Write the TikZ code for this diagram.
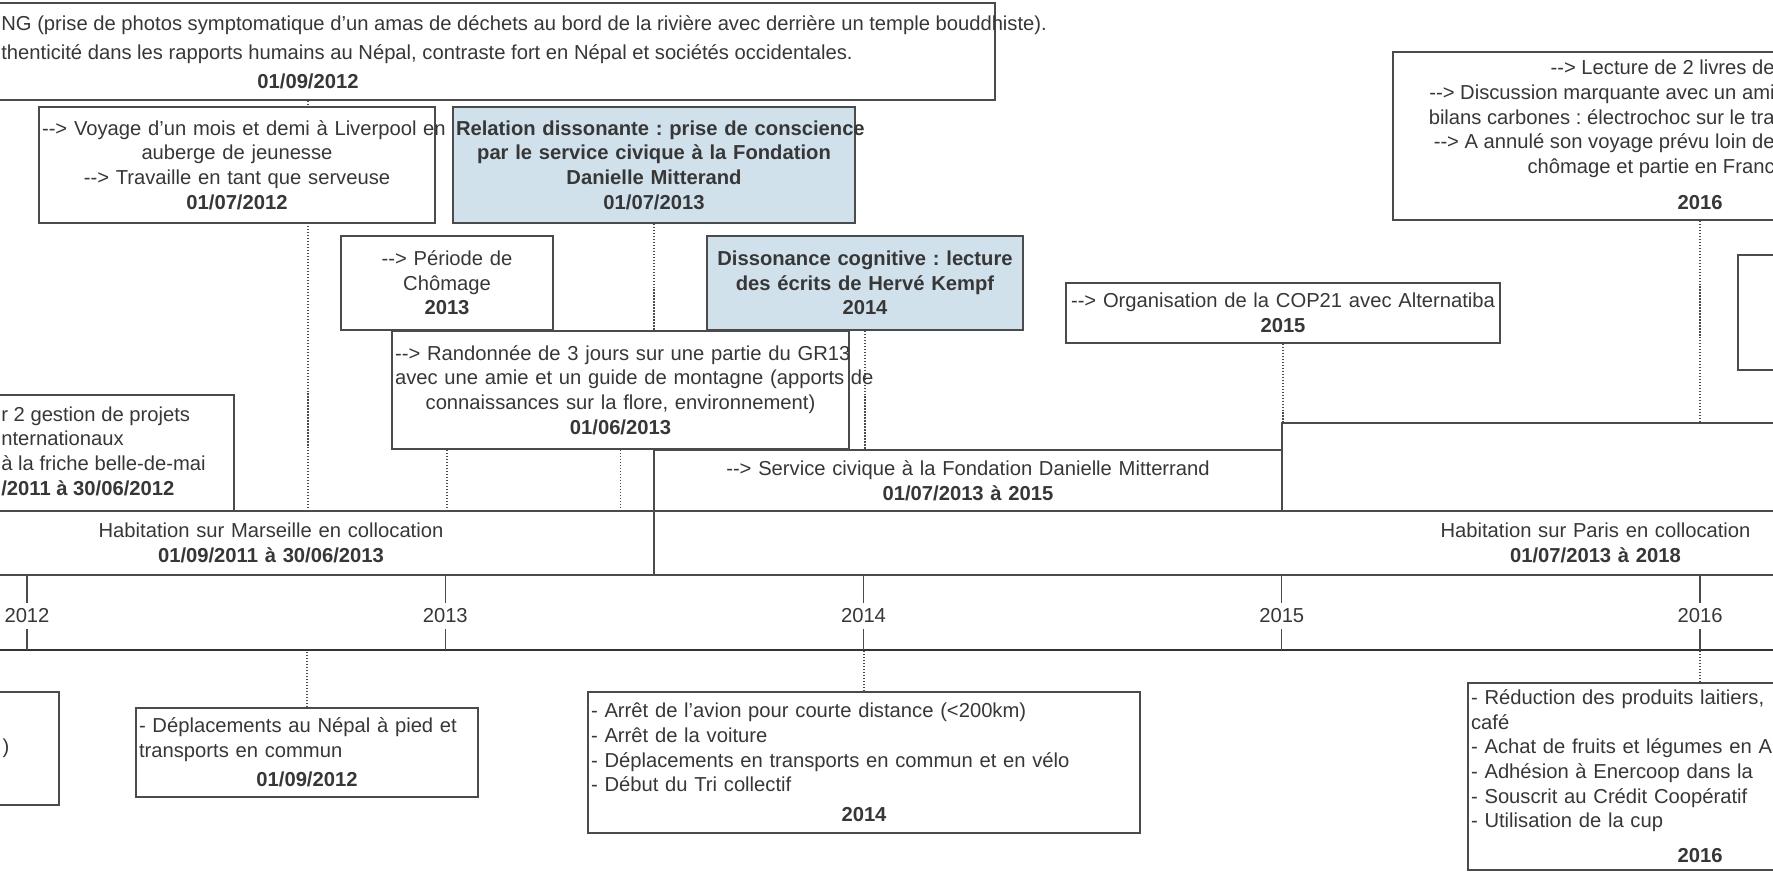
\documentclass[tikz,border=0pt]{standalone}
\usepackage{fontspec}
\setmainfont{Liberation Sans}
\usetikzlibrary{positioning, backgrounds}
\definecolor{framegray}{RGB}{75,75,75}
\definecolor{inkgray}{RGB}{55,55,55}
\definecolor{dissblue}{RGB}{208,225,236}
\newcommand{\fl}{-{}-{}>}

\begin{document}
\frenchspacing
\begin{tikzpicture}[
    x=0.02cm, y=-0.02cm,
    every node/.style = {font=\fontsize{11.5}{14}\selectfont, text=inkgray},
    evbox/.style    = {draw=framegray, line width=0.9pt, fill=white, align=center,
                       inner xsep=0.06cm, inner ysep=0pt},
    dissbox/.style  = {evbox, fill=dissblue, font=\fontsize{11.5}{14}\selectfont\bfseries},
    listbox/.style  = {evbox, align=left},
    blankbox/.style = {draw=framegray, line width=0.9pt, fill=white, inner sep=0pt},
    dateline/.style = {densely dotted, line width=0.7pt, framegray},
    yearlbl/.style  = {inner sep=3pt},
]

\useasboundingbox (0,0) rectangle (1773,875);
\clip (0,0) rectangle (1773,875);

% Time axis
\node[minimum width=37cm, minimum height=1.5cm, fill=white, inner sep=0pt] (axis) at (886,612) {};
\draw[line width=1.5pt, black!85] (axis.north west) -- (axis.north east);
\draw[line width=1pt, black!80] (axis.south west) -- (axis.south east);
\foreach \yr [count=\i from 0] in {2012,...,2016}{
  \node[yearlbl] (y\yr) at (27+\i*418.25,616) {\yr};
  \draw[framegray, line width=0.8pt] (y\yr.north |- axis.north) -- (y\yr.north);
  \draw[framegray, line width=0.8pt] (y\yr.south) -- (y\yr.south |- axis.south);
}

% Top band
\node[blankbox, minimum width=27.9cm, minimum height=1.94cm] (topBox) at (297.5,51.5) {};
\node[anchor=north west, align=left, inner sep=0pt, font=\fontsize{11.5}{16.5}\selectfont] (nepTxt) at (1,15)
  {NG (prise de photos symptomatique d'un amas de déchets au bord de la rivière avec derrière un temple bouddhiste).\\
   thenticité dans les rapports humains au Népal, contraste fort en Népal et sociétés occidentales.};
\node[inner sep=0pt] (nepDate) at (308,81) {\textbf{01/09/2012}};

% Events above the axis
\node[evbox, text width=7.80cm, minimum height=2.32cm] (voyBox) at (237,165)
  {\mbox{\fl{} Voyage d'un mois et demi à Liverpool  en}\\auberge de jeunesse\\\fl{} Travaille en tant que serveuse\\\textbf{01/07/2012}};
\node[dissbox, text width=7.92cm, minimum height=2.32cm] (relBox) at (654,165)
  {\mbox{Relation dissonante : prise de conscience}\\par le service civique à la Fondation\\Danielle Mitterand\\01/07/2013};
\node[evbox, text width=4.12cm, minimum height=1.88cm] (perBox) at (447,283)
  {\fl{} Période de\\Chômage\\\textbf{2013}};
\node[dissbox, text width=6.20cm, minimum height=1.88cm] (disBox) at (865,283)
  {Dissonance cognitive : lecture\\des écrits de Hervé Kempf\\2014};
\node[evbox, text width=9.02cm, minimum height=2.36cm] (ranBox) at (620.5,390)
  {\mbox{\fl{} Randonnée de 3 jours sur une partie du GR13}\\\mbox{avec une amie et un guide de montagne (apports de}\\connaissances sur la flore, environnement)\\\textbf{01/06/2013}\\[-6pt]};
\node[evbox, text width=8.56cm, minimum height=1.20cm] (copBox) at (1283,313)
  {\fl{} Organisation de la COP21 avec Alternatiba\\\textbf{2015}};

\node[evbox, text width=12.16cm, minimum height=3.36cm] (lecBox) at (1700,136) {};
\node[anchor=north east, align=right, inner sep=0pt] (lecTxt) at (1775,60)
  {\fl{} Lecture de 2 livres de\\\fl{} Discussion marquante  avec un ami\\bilans carbones : électrochoc sur le tra\\\fl{} A annulé son voyage prévu loin de\\chômage et partie en Franc};
\node[inner sep=0pt] (lecDate) at (1700,203) {\textbf{2016}};
\node[blankbox, minimum width=4.24cm, minimum height=2.3cm] (rgtBox) at (1844,312.5) {};

\node[blankbox, minimum width=8.68cm, minimum height=2.32cm] (friBox) at (17,453) {};
\node[anchor=west, align=left, inner sep=0pt] (friTxt) at (1,451)
  {r 2 gestion de projets\\nternationaux\\à la friche belle-de-mai\\\textbf{/2011 à 30/06/2012}};

% Periods
\node[evbox, text width=12.44cm, minimum height=1.22cm] (serBox) at (968,480.5)
  {\fl{} Service civique à la Fondation Danielle Mitterrand\\\textbf{01/07/2013 à 2015}};
\node[blankbox, minimum width=12.36cm, minimum height=1.76cm] (altBox) at (1591,467) {};
\node[evbox, text width=15.2cm, minimum height=1.28cm] (marBox) at (271,543)
  {Habitation sur Marseille en collocation\\\textbf{01/09/2011 à 30/06/2013}};
\node[evbox, text width=37.54cm, minimum height=1.28cm] (parBox) at (1595.5,543)
  {Habitation sur Paris en collocation\\\textbf{01/07/2013 à 2018}};

% Changes below the axis
\node[blankbox, minimum width=5.18cm, minimum height=2.26cm] (cutBox) at (-70.5,748.5) {};
\node[inner sep=0pt] (cutTxt) at (6,748) {)};
\node[listbox, text width=6.72cm, minimum height=1.78cm] (nepBot) at (307,752.5)
  {- Déplacements au Népal à pied et\\transports en commun\par\vspace{3pt}\centering\textbf{01/09/2012}\par};
\node[listbox, text width=10.92cm, minimum height=2.82cm] (bot14) at (864,762.5)
  {- Arrêt de l'avion pour courte distance (<200km)\\- Arrêt de la voiture\\- Déplacements en transports en commun et en vélo\\- Début du Tri collectif\par\vspace{3pt}\centering\textbf{2014}\par};
\node[listbox, text width=9.16cm, anchor=north, inner ysep=4pt] (bot16) at (1700,682)
  {- Réduction des produits laitiers,\\café\\- Achat de fruits et légumes en A\\- Adhésion à Enercoop dans la\\- Souscrit au Crédit Coopératif\\- Utilisation de la cup\par\vspace{6pt}\centering\textbf{2016}\par};

% Date guides
\begin{scope}[on background layer]
  \fill[white] (0,0) rectangle (1773,875);
  \draw[dateline] (nepDate |- topBox.south) -- (nepDate |- axis.north);
  \foreach \b in {perBox,relBox,ranBox,disBox,copBox,lecBox}
    \draw[dateline] (\b.south) -- (\b.south |- axis.north);
  \foreach \b in {nepBot,bot14,bot16}
    \draw[dateline] (\b.north) -- (\b.north |- axis.south);
\end{scope}

\end{tikzpicture}
\end{document}
